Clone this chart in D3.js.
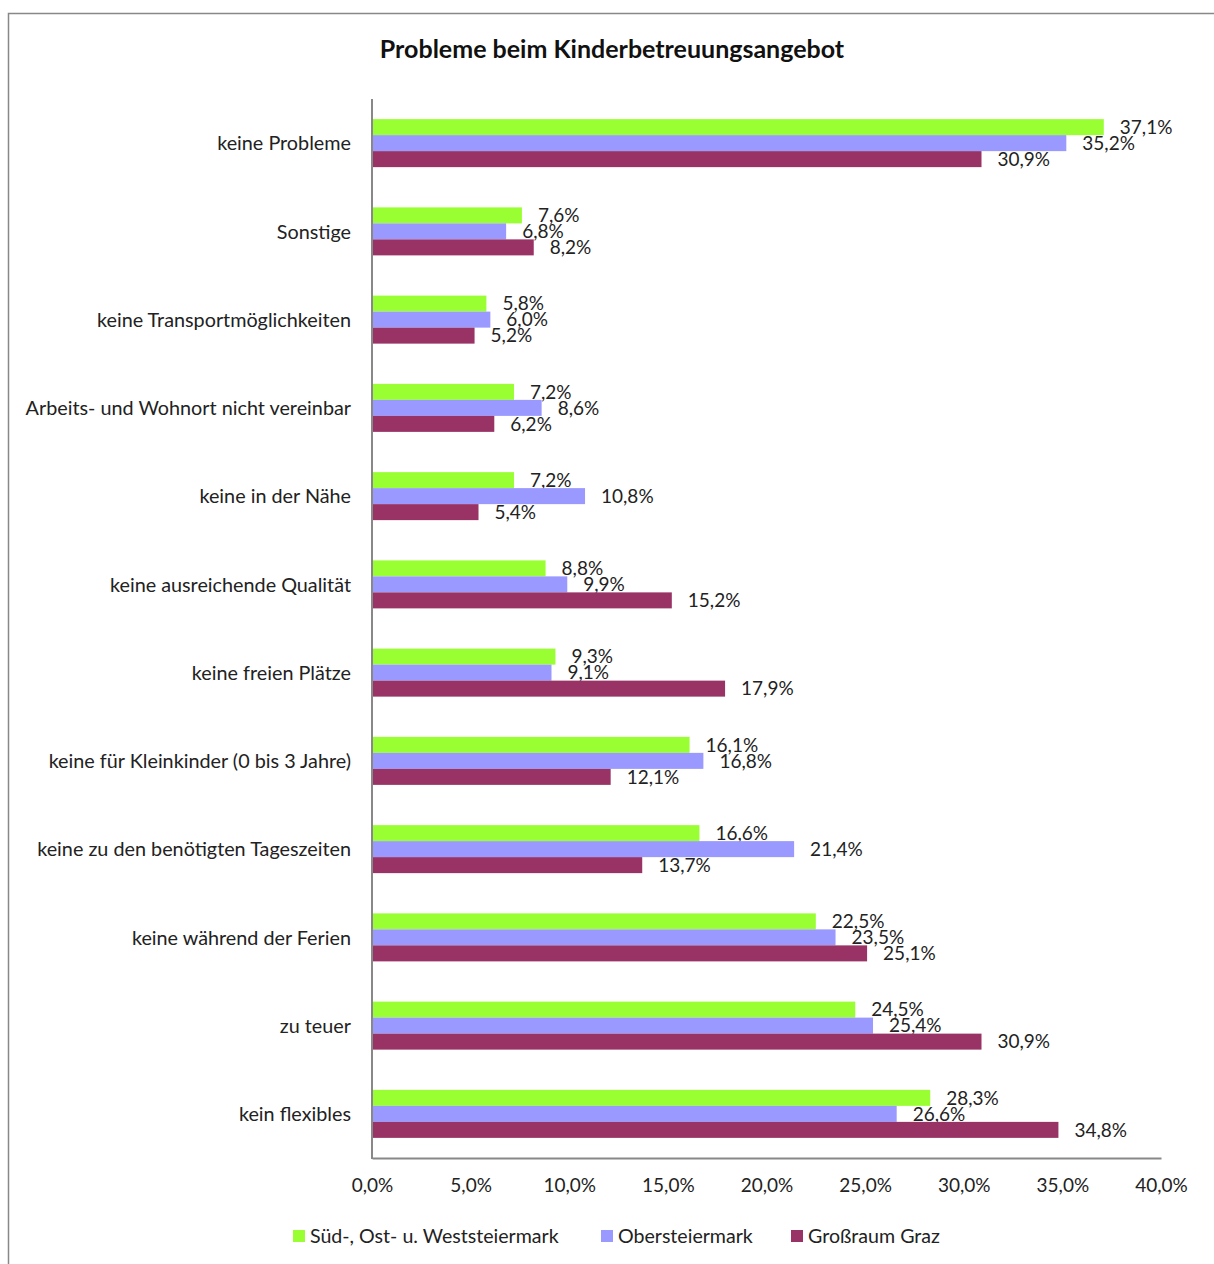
<!DOCTYPE html>
<html><head><meta charset="utf-8">
<script src="https://cdn.jsdelivr.net/npm/d3@7"></script>
<style>body{margin:0;background:#fff}svg{display:block}</style>
</head><body>
<svg id="c" width="1214" height="1264"></svg>
<script>
const categories = ["keine Probleme","Sonstige","keine Transportmöglichkeiten","Arbeits- und Wohnort nicht vereinbar","keine in der Nähe","keine ausreichende Qualität","keine freien Plätze","keine für Kleinkinder (0 bis 3 Jahre)","keine zu den benötigten Tageszeiten","keine während der Ferien","zu teuer","kein flexibles"];
const seriesNames = ["Süd-, Ost- u. Weststeiermark","Obersteiermark","Großraum Graz"];
const sued = [37.1,7.6,5.8,7.2,7.2,8.8,9.3,16.1,16.6,22.5,24.5,28.3];
const ober = [35.2,6.8,6.0,8.6,10.8,9.9,9.1,16.8,21.4,23.5,25.4,26.6];
const graz = [30.9,8.2,5.2,6.2,5.4,15.2,17.9,12.1,13.7,25.1,30.9,34.8];
const xTicks = [0,5,10,15,20,25,30,35,40];
const colors = ["#99FF33","#9999FF","#993366"];
const title = "Probleme beim Kinderbetreuungsangebot";

const font = "Lato, 'Liberation Sans', sans-serif";
const svg = d3.select("#c");
const fmt = v => v.toFixed(1).replace(".", ",") + "%";
const values = [sued, ober, graz];

// frame
svg.append("rect").attr("x",8.5).attr("y",13.5).attr("width",1230).attr("height",1280)
  .attr("fill","none").attr("stroke","#888").attr("stroke-width",1.5);

svg.append("text").attr("x",612).attr("y",58).attr("text-anchor","middle")
  .attr("font-family",font).attr("font-weight","bold").attr("font-size",25).attr("fill","#111")
  .text(title);

const x = d3.scaleLinear().domain([0,40]).range([372,1161]);
const y = d3.scaleBand().domain(categories).range([99,1158]).paddingInner(0.456).paddingOuter(0.228);
const ys = d3.scaleBand().domain(seriesNames).range([0,y.bandwidth()]);

const g = svg.append("g");
categories.forEach((c,i)=>{
  seriesNames.forEach((s,j)=>{
    const v = values[j][i];
    g.append("rect").attr("x",x(0)).attr("y",y(c)+ys(s)).attr("width",x(v)-x(0)).attr("height",ys.bandwidth())
      .attr("fill",colors[j]);
    g.append("text").attr("x",x(v)+16).attr("y",y(c)+ys(s)+ys.bandwidth()/2).attr("dy","0.36em")
      .attr("font-family",font).attr("font-size",19).attr("fill","#222").text(fmt(v));
  });
  svg.append("text").attr("x",351).attr("y",y(c)+y.bandwidth()/2).attr("dy","0.36em").attr("text-anchor","end")
    .attr("font-family",font).attr("font-size",19.8).attr("fill","#222").text(c);
});

// axes
const xAxis = d3.axisBottom(x).tickValues(xTicks).tickSize(0).tickPadding(21).tickFormat(fmt);
const ax = svg.append("g").attr("transform","translate(0,1158)").call(xAxis);
ax.select(".domain").attr("stroke","#888").attr("stroke-width",2);
ax.selectAll("text").attr("font-family",font).attr("font-size",19).attr("fill","#222");
svg.append("line").attr("x1",372).attr("x2",372).attr("y1",99).attr("y2",1159)
  .attr("stroke","#888").attr("stroke-width",2);

// legend
const legX = [293,601,791];
seriesNames.forEach((s,j)=>{
  svg.append("rect").attr("x",legX[j]).attr("y",1230).attr("width",12).attr("height",12).attr("fill",colors[j]);
  svg.append("text").attr("x",legX[j]+17).attr("y",1236).attr("dy","0.36em")
    .attr("font-family",font).attr("font-size",19.6).attr("fill","#222").text(s);
});
</script>
</body></html>
